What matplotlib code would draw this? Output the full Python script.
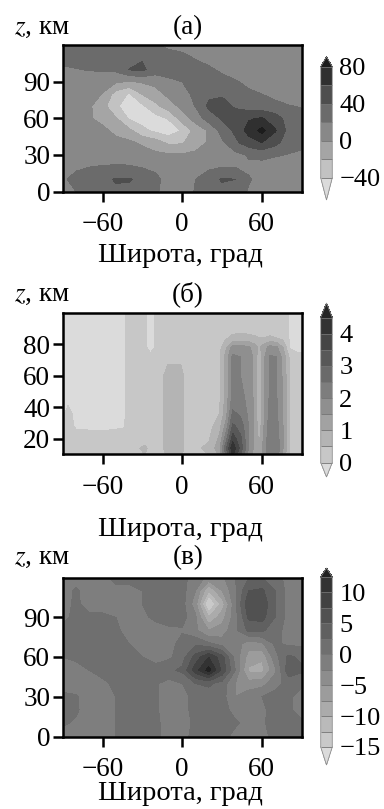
import numpy as np
import matplotlib
matplotlib.use('Agg')
import matplotlib.pyplot as plt
from matplotlib.colors import ListedColormap

plt.rcParams['font.family'] = ['Liberation Serif', 'DejaVu Serif']
plt.rcParams['mathtext.fontset'] = 'stix'

# --- datos ---
# paneles (а) y (в): rejilla regular latitud x altura
lat = [-90, -80, -70, -60, -50, -40, -30, -20, -10, 0, 10, 20, 30, 40, 50, 60, 70, 80, 90]
z_ac = [0, 10, 20, 30, 40, 50, 60, 70, 80, 90, 100, 110, 120]

# (а) filas: z = 0 ... 120
campo_a = [
    [16, 20, 26, 30, 36, 34, 30, 24, 8, 6, 22, 28, 34, 32, 18, 12, 10, 10, 10],
    [18, 24, 28, 34, 42, 42, 34, 26, 10, 8, 20, 32, 42, 40, 22, 14, 10, 10, 10],
    [14, 18, 20, 21, 22, 22, 19, 15, 10, 8, 12, 16, 20, 20, 16, 12, 10, 10, 10],
    [12, 14, 14, 14, 12, 10, 8, 4, 3, 2, 4, 8, 10, 14, 22, 26, 22, 19, 17],
    [10, 10, 9, 8, 6, 4, -3, -10, -24, -22, -8, 2, 16, 36, 50, 60, 46, 30, 24],
    [10, 8, 6, 5, -5, -15, -35, -45, -52, -38, -12, 2, 28, 44, 68, 86, 62, 34, 26],
    [9, 6, 2, -6, -18, -42, -48, -48, -38, -10, 8, 30, 42, 48, 58, 62, 50, 32, 25],
    [10, 8, 3, -12, -38, -46, -44, -25, -10, 6, 21, 44, 46, 38, 30, 28, 25, 21, 19],
    [10, 10, 8, -1, -28, -42, -19, -8, 6, 14, 24, 36, 38, 30, 24, 20, 15, 12, 11],
    [12, 12, 10, 8, 3, -2, 2, 6, 16, 20, 26, 30, 28, 22, 15, 12, 10, 10, 10],
    [17, 19, 21, 22, 24, 40.5, 44, 30, 28, 30, 30, 24, 16, 10, 8, 8, 8, 8, 8],
    [26, 28, 30, 30, 32, 34, 38, 32, 30, 26, 18, 12, 10, 8, 8, 8, 8, 8, 8],
    [28, 30, 30, 30, 30, 30, 28, 22, 15, 12, 10, 8, 8, 8, 8, 8, 8, 8, 8],
]
niveles_a = [-40, -20, 0, 20, 40, 60, 80]
ticks_a = [-40, 0, 40, 80]

# (б) rejilla irregular
lat_b = [-90, -86, -80, -60, -44, -40, -28, -24, -18, -14, -11, -1, 3, 20,
         28, 33, 38, 44, 50, 55, 58, 61, 66, 71, 76, 81, 86, 90]
z_b = [10, 14, 20, 28, 36, 46, 60, 72, 78, 84, 92, 100]
campo_b = [
    [0.2, 0.2, 0.3, 0.2, 0.2, 0.25, 0.5, 0.3, 0.25, 0.4, 0.6, 0.6, 0.3, 0.5, 1.1, 2.6, 4.1, 3.0, 1.8, 1.2, 0.9, 1.5, 2.4, 2.3, 1.4, 0.4, 0.2, 0.2],
    [0.25, 0.3, 0.4, 0.3, 0.3, 0.3, 0.6, 0.35, 0.25, 0.5, 0.7, 0.7, 0.3, 0.6, 1.3, 2.9, 4.4, 3.3, 2.0, 1.3, 1.0, 1.6, 2.4, 2.4, 1.5, 0.5, 0.25, 0.25],
    [0.2, 0.35, 0.3, 0.25, 0.25, 0.25, 0.3, 0.25, 0.25, 0.5, 0.7, 0.7, 0.3, 0.45, 1.1, 2.3, 3.8, 3.1, 2.0, 1.3, 0.9, 1.5, 2.4, 2.3, 1.5, 0.5, 0.25, 0.25],
    [0.1, 0.3, -0.1, -0.15, -0.05, 0.25, 0.25, 0.25, 0.25, 0.5, 0.7, 0.7, 0.3, 0.3, 0.8, 1.7, 3.1, 2.8, 2.0, 1.3, 0.7, 1.4, 2.3, 2.2, 1.5, 0.5, 0.25, 0.25],
    [-0.1, 0.2, -0.2, -0.2, -0.1, 0.25, 0.25, 0.25, 0.25, 0.5, 0.7, 0.7, 0.3, 0.25, 0.5, 1.3, 2.6, 2.4, 1.9, 1.3, 0.45, 1.3, 2.2, 2.1, 1.4, 0.5, 0.25, 0.25],
    [-0.2, -0.2, -0.2, -0.2, -0.1, 0.25, 0.25, 0.25, 0.25, 0.5, 0.7, 0.7, 0.3, 0.25, 0.4, 1.2, 2.2, 2.1, 1.9, 1.3, 0.45, 1.3, 2.1, 2.05, 1.4, 0.5, 0.25, 0.25],
    [-0.2, -0.2, -0.2, -0.2, -0.1, 0.25, 0.25, 0.25, 0.25, 0.5, 0.7, 0.7, 0.3, 0.25, 0.4, 1.2, 2.1, 2.0, 1.8, 1.3, 0.45, 1.3, 2.05, 2.0, 1.4, 0.5, 0.25, 0.25],
    [-0.2, -0.2, -0.2, -0.2, -0.1, 0.25, 0.25, 0.15, 0.25, 0.3, 0.35, 0.35, 0.25, 0.25, 0.4, 1.2, 2.1, 2.0, 1.8, 1.3, 0.5, 1.3, 2.05, 2.0, 1.3, 0.4, 0.2, 0.2],
    [-0.2, -0.2, -0.2, -0.2, -0.1, 0.25, 0.1, -0.2, 0.15, 0.25, 0.25, 0.25, 0.25, 0.25, 0.35, 0.9, 1.7, 1.7, 1.6, 1.2, 0.9, 1.2, 1.7, 1.6, 1.0, -0.05, -0.2, -0.2],
    [-0.2, -0.2, -0.2, -0.2, -0.1, 0.25, 0.1, -0.2, 0.15, 0.25, 0.25, 0.25, 0.25, 0.25, 0.25, 0.45, 0.6, 0.65, 0.6, 0.55, 0.5, 0.5, 0.55, 0.5, 0.35, -0.05, -0.2, -0.2],
    [-0.2, -0.2, -0.2, -0.2, -0.1, 0.25, 0.1, -0.2, 0.15, 0.25, 0.25, 0.25, 0.25, 0.25, 0.25, 0.25, 0.25, 0.25, 0.25, 0.25, 0.25, 0.25, 0.25, 0.25, 0.25, -0.05, -0.2, -0.2],
    [-0.2, -0.2, -0.2, -0.2, -0.1, 0.25, 0.1, -0.2, 0.15, 0.25, 0.25, 0.25, 0.25, 0.25, 0.25, 0.25, 0.25, 0.25, 0.25, 0.25, 0.25, 0.25, 0.25, 0.25, 0.25, -0.05, -0.2, -0.2],
]
niveles_b = [0, 0.5, 1, 1.5, 2, 2.5, 3, 3.5, 4, 4.5]
ticks_b = [0, 1, 2, 3, 4]

# (в) filas: z = 0 ... 120
campo_c = [
    [-1, -1, -1, -1, 0, 1, 1, 0.5, -1, -1, 1, 1.2, 1.2, -1, -1, -1, 1, 1, 1],
    [0.3, -0.3, -1, -1, 0, 1.2, 1.2, 0.5, -1, -1, 0.5, 1.2, 1.2, 0.5, -1, -0.5, 1.2, 1, 0.5],
    [0.5, 0.3, -1, -1, 0, 1.2, 1.2, 0.3, -1, -1, 1, 1.2, 1.2, -1, -1, -0.5, 1, 0.5, -1],
    [0.5, 0.2, -1, -1, 0, 1, 1, 0.3, -1, -1, 1, 1.2, 1, -2.5, -1, 0, 1, 0.5, -1],
    [-1, -1, -1, -0.5, 0.5, 1, 1, 0.3, -1, 0, 2.5, 3, 1.5, -2.5, -4, -3.5, -1, 1, 0.5],
    [-1, -1, 0, 0.8, 1, 1, 1, 1, 2, 3, 9, 13.5, 7, 0, -8, -8.5, -3, 4, 3],
    [0, 0.5, 1, 1, 1, 0.5, 0, -1, -0.5, 1.5, 6, 10, 6, -1, -6, -7, -1, 3, 2],
    [1.2, 1.2, 1.2, 1.2, 1.2, 0, -1, -1, -1, 1, 2, 0.5, -1, -1, -4, -3, 0.5, -0.5, -0.5],
    [1, 1.2, 1.2, 1, 0.5, -1, -1, -1, -0.5, -0.3, -2, -5, -4, -0.5, 3, 3, 1, -1, -1],
    [-1, 1, 0.5, 0.5, 0, -1, -0.5, 0.5, 1, 1, -2, -10, -6, -1, 5.5, 6, 2.5, -1, -1],
    [-1, 0.5, -1, -1, -1, -1, 0, 1, 1, 1, -4, -16, -9, -0.5, 7, 7, 2.5, -1, -1],
    [-1, 0.3, -1, -1, -1, -1, 0, 1, 1, 1, -2.5, -10, -5, -0.5, 5, 5.5, 2.5, -1, -1],
    [-1, -1, -1, -1, 1, 1, 1, 1, 1, 1, -1.5, -3, -3, 0, 2.5, 2.5, 1.2, -1, -1],
]
niveles_c = [-15, -12.5, -10, -7.5, -5, -2.5, 0, 2.5, 5, 7.5, 10, 12.5]
ticks_c = [-15, -10, -5, 0, 5, 10]

W, H = 384, 809


def px(x, y):
    return x / W, 1 - y / H


def gris(n, claro, oscuro, under, over):
    g = np.linspace(claro, oscuro, n)
    cm = ListedColormap([(v, v, v) for v in g])
    cm.set_under((under, under, under))
    cm.set_over((over, over, over))
    return cm


fig = plt.figure(figsize=(W / 100, H / 100), dpi=100)

paneles = [
    # datos, x, y, niveles, ticks, yticks, ylim, caja (px), cbar (px), extendfrac, letra
    (campo_a, lat, z_ac, niveles_a, ticks_a, [0, 30, 60, 90], (0, 120),
     (45.3, 191.5), (56.7, 200), [0.2, 0.09], '(а)', 34, 261.5,
     gris(6, 0.76, 0.19, 0.86, 0.11)),
    (campo_b, lat_b, z_b, niveles_b, ticks_b, [20, 40, 60, 80], (10, 100),
     (312.7, 454.5), (303, 477), [0.1, 0.1], '(б)', 301, 535.5,
     gris(9, 0.78, 0.2, 0.86, 0.14)),
    (campo_c, lat, z_ac, niveles_c, ticks_c, [0, 30, 60, 90], (0, 120),
     (577.5, 736.5), (568, 765), [0.106, 0.053], '(в)', 564, 800,
     gris(11, 0.79, 0.2, 0.86, 0.13)),
]

for (campo, xs, zs, niv, tks, yt, ylim, caja, cb, ef, letra,
     y_tit, y_xl, cmap) in paneles:
    x0, y0 = px(62.7, caja[1])
    x1, y1 = px(301.7, caja[0])
    ax = fig.add_axes([x0, y0, x1 - x0, y1 - y0])
    cs = ax.contourf(xs, zs, np.array(campo), levels=niv, cmap=cmap,
                     extend='both')
    ax.set_xlim(-90, 90)
    ax.set_ylim(*ylim)
    ax.set_xticks([-60, 0, 60])
    ax.set_yticks(yt)
    for s in ax.spines.values():
        s.set_linewidth(1.8)
    ax.tick_params(axis='both', direction='out', length=7, width=1.8,
                   labelsize=19.5)
    ax.tick_params(axis='x', pad=8)
    ax.tick_params(axis='y', pad=2)

    # barra de color
    cx0, cy0 = px(320.7, cb[1])
    cx1, cy1 = px(332.3, cb[0])
    cax = fig.add_axes([cx0, cy0, cx1 - cx0, cy1 - cy0])
    cbar = fig.colorbar(cs, cax=cax, extendfrac=ef, drawedges=True,
                        ticks=tks)
    cbar.outline.set_edgecolor('0.55')
    cbar.outline.set_linewidth(0.6)
    cbar.dividers.set_color('0.45')
    cbar.dividers.set_linewidth(0.6)
    cax.tick_params(length=0, labelsize=19, pad=5)

    # textos
    tx, ty = px(188, y_tit)
    fig.text(tx, ty, letra, ha='center', va='baseline', fontsize=19.5)
    zx, zy = px(14, y_tit)
    fig.text(zx, zy, '$z$, км', ha='left', va='baseline', fontsize=19.5)
    lx, ly = px(180, y_xl)
    fig.text(lx, ly, 'Широта, град', ha='center', va='baseline', fontsize=20.5)

fig.savefig('out.png', dpi=100)
